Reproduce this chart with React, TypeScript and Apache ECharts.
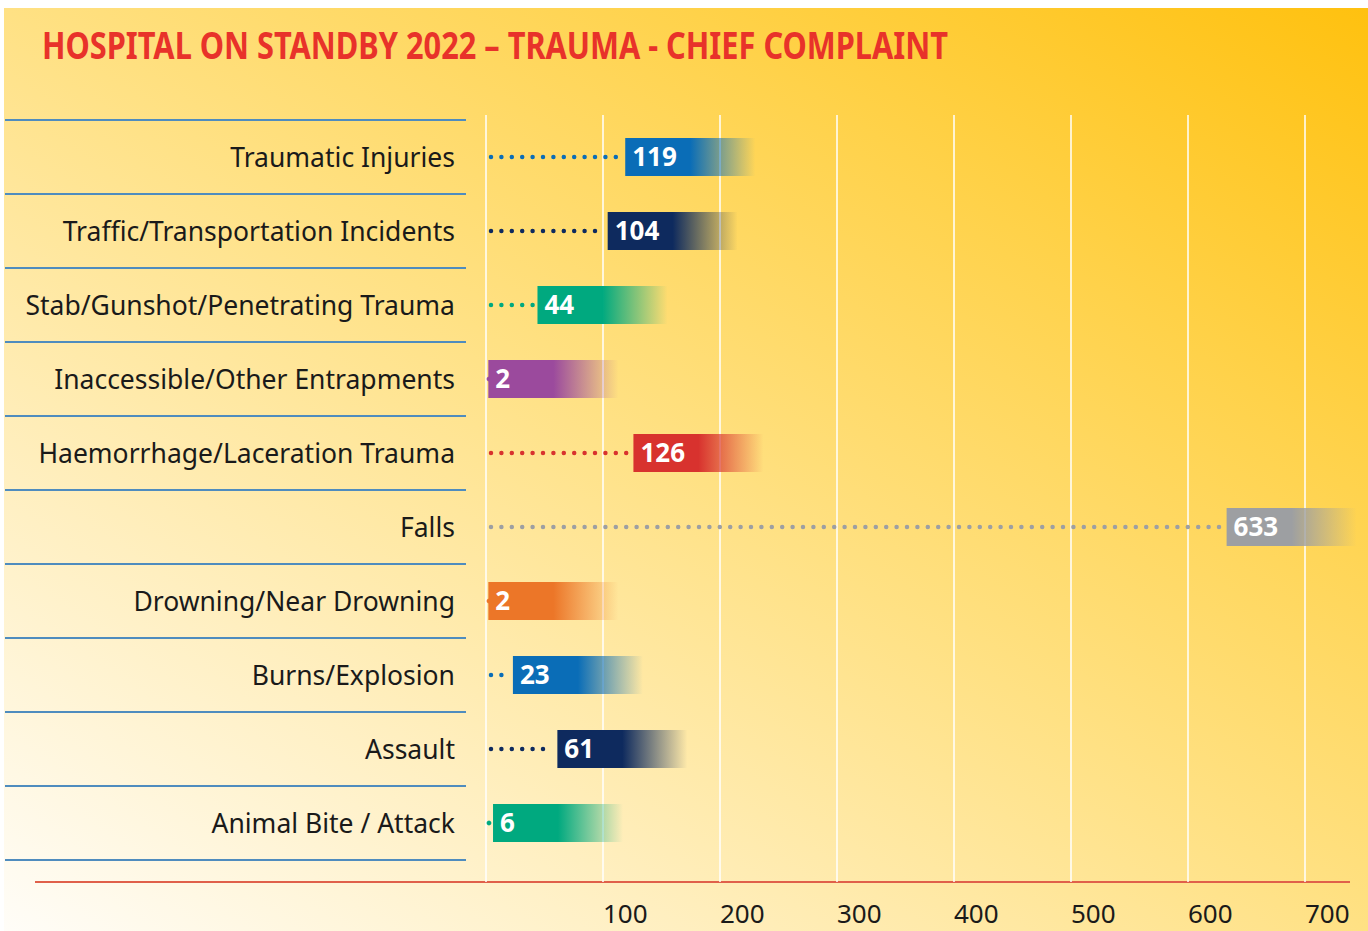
import React, { useEffect, useRef } from "react";
import * as echarts from "echarts";

const titleText = "HOSPITAL ON STANDBY 2022 – TRAUMA - CHIEF COMPLAINT";
const categories = [
  "Traumatic Injuries",
  "Traffic/Transportation Incidents",
  "Stab/Gunshot/Penetrating Trauma",
  "Inaccessible/Other Entrapments",
  "Haemorrhage/Laceration Trauma",
  "Falls",
  "Drowning/Near Drowning",
  "Burns/Explosion",
  "Assault",
  "Animal Bite / Attack",
];
const values = [119, 104, 44, 2, 126, 633, 2, 23, 61, 6];
const barColors = [
  "#0A6DB7",
  "#0E2A5E",
  "#00A97F",
  "#9B4A9D",
  "#D8322E",
  "#9D9FA2",
  "#EC7628",
  "#0A6DB7",
  "#0E2A5E",
  "#00A97F",
];
const xTicks = [0, 100, 200, 300, 400, 500, 600, 700];

function hexToRgba(hex: string, a: number) {
  const n = parseInt(hex.slice(1), 16);
  return `rgba(${(n >> 16) & 255},${(n >> 8) & 255},${n & 255},${a})`;
}

export default function App() {
  const ref = useRef<HTMLDivElement>(null);
  useEffect(() => {
    if (!ref.current) return;
    const chart = echarts.init(ref.current, null, { renderer: "svg" });
    const W = 1364;
    const option: any = {
      animation: false,
      grid: [
        { left: 482, right: 63, top: 112, bottom: 71 },
        { left: 482, right: 63, top: 107, bottom: 49 },
        { left: 1, right: W - 462, top: 112, bottom: 71 },
      ],
      xAxis: [
        { gridIndex: 0, type: "value", min: 0, max: 700, interval: 100, show: false, splitLine: { show: false } },
        {
          gridIndex: 1,
          type: "value",
          min: xTicks[0],
          max: xTicks[xTicks.length - 1],
          interval: 100,
          axisLine: { show: false },
          axisTick: { show: false },
          splitLine: { show: true, lineStyle: { color: "#FFFFFF", width: 1.5 } },
          axisLabel: {
            show: true,
            margin: 19,
            align: "left",
            fontFamily: "Noto Sans",
            fontSize: 26,
            lineHeight: 24,
            color: "#1A1A1A",
            formatter: (v: number) => (v === 0 ? "" : String(v)),
          },
        },
        { gridIndex: 2, type: "value", show: false },
      ],
      yAxis: [
        {
          gridIndex: 0,
          type: "category",
          data: categories,
          inverse: true,
          axisLine: { show: false },
          axisTick: { show: false },
          splitLine: { show: false },
          axisLabel: {
            margin: 31,
            fontFamily: "Noto Sans",
            fontSize: 26.5,
            color: "#1A1A1A",
            padding: [7, 0, 0, 0],
          },
        },
        { gridIndex: 1, type: "value", show: false },
        {
          gridIndex: 2,
          type: "category",
          data: categories,
          inverse: true,
          axisLine: { show: false },
          axisTick: { show: false },
          axisLabel: { show: false },
          splitLine: { show: true, lineStyle: { color: "#4F8CBE", width: 2 } },
        },
      ],
      graphic: [
        {
          type: "text",
          x: 38,
          y: 37,
          scaleX: 0.831,
          style: {
            text: titleText,
            fill: "#E8322A",
            font: 'bold 37px "Noto Sans"',
            verticalAlign: "middle",
          },
        },
        {
          type: "line",
          shape: { x1: 31, y1: 874, x2: 1346, y2: 874 },
          style: { stroke: "#E0604A", lineWidth: 2 },
        },
      ],
      series: [
        {
          type: "custom",
          xAxisIndex: 0,
          yAxisIndex: 0,
          data: values.map((v, i) => [v, i]),
          renderItem: (params: any, api: any) => {
            const v = api.value(0);
            const idx = api.value(1);
            const p0 = api.coord([0, idx]);
            const p = api.coord([v, idx]);
            const h = api.size([0, 1])[1] * 0.515;
            const w = 130;
            const c = barColors[idx];
            const x1 = p0[0] + 5;
            const x2 = p[0] - 4;
            const children: any[] = [];
            if (x2 - x1 > 3) {
              children.push({
                type: "line",
                shape: { x1, y1: p[1], x2, y2: p[1] },
                style: { stroke: c, lineWidth: 4.5, lineDash: [0, 10.4], lineCap: "round" },
              });
            } else {
              children.push({
                type: "circle",
                shape: { cx: p0[0] + 3, cy: p[1], r: 2.4 },
                style: { fill: c },
              });
            }
            children.push({
              type: "rect",
              shape: { x: p[0], y: p[1] - h / 2, width: w, height: h },
              style: {
                fill: new echarts.graphic.LinearGradient(0, 0, 1, 0, [
                  { offset: 0, color: c },
                  { offset: 0.5, color: c },
                  { offset: 1, color: hexToRgba(c, 0) },
                ]),
              },
            });
            children.push({
              type: "text",
              x: p[0] + 7,
              y: p[1] - 1,
              style: {
                text: String(v),
                fill: "#FFFFFF",
                font: 'bold 26px "Noto Sans"',
                verticalAlign: "middle",
              },
            });
            return { type: "group", children };
          },
        },
      ],
    };
    chart.setOption(option);
    return () => chart.dispose();
  }, []);
  return (
    <div style={{ position: "absolute", left: 0, top: 0, width: 1368, height: 931, background: "#FFFFFF" }}>
      <div
        ref={ref}
        style={{
          position: "absolute",
          left: 4,
          top: 8,
          width: 1364,
          height: 923,
          background:
            "linear-gradient(to top right, #FFFDF8 0%, #FFEFC0 25%, #FFE184 50%, #FFD24A 75%, #FFC10F 100%)",
        }}
      />
    </div>
  );
}
